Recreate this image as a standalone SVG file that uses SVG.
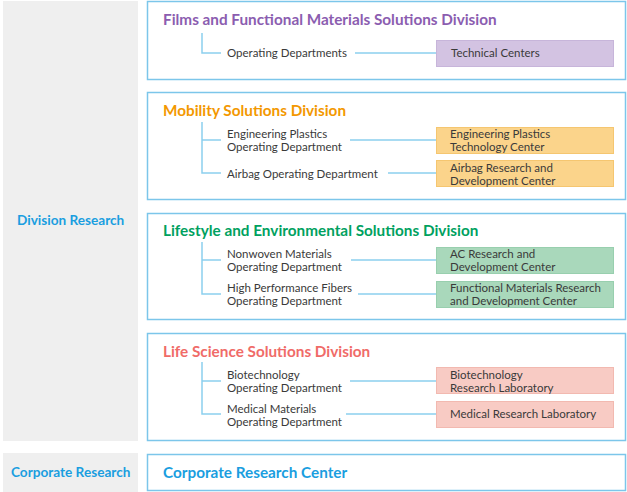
<svg xmlns="http://www.w3.org/2000/svg" width="627" height="492" viewBox="0 0 627 492">
<style>
.panel{fill:#efefef}
.box{fill:#fff;stroke:#7cc6ea;stroke-width:1.5}
.title{font-family:Lato,"Open Sans",sans-serif;font-weight:700;font-size:15.3px}
.side{font-family:Lato,"Open Sans",sans-serif;font-weight:700;font-size:13.6px;fill:#1a9ee0}
.t{font-family:Lato,"Open Sans",sans-serif;font-size:11.5px;fill:#3a3a3a}
.ln{stroke:#8ccfee;stroke-width:1.5;fill:none}
.pu{fill:#d3c3e2;stroke:#c7b5da}
.or{fill:#fbd48b;stroke:#f5c670}
.gr{fill:#a9d8bb;stroke:#98cfae}
.pk{fill:#f8cbc4;stroke:#f2b9b0}
</style>
<g id="panels">
<rect class="panel" x="3" y="1" width="135" height="440"/>
<rect class="panel" x="3" y="453" width="135" height="39"/>
<text class="side" x="17" y="225">Division Research</text>
<text class="side" x="11" y="477">Corporate Research</text>
</g>
<g id="films">
<rect class="box" x="147.5" y="1.5" width="478" height="78"/>
<text class="title" x="163" y="25" fill="#8b5db0">Films and Functional Materials Solutions Division</text>
<text class="t" x="227" y="57">Operating Departments</text>
<rect class="pu" x="436.5" y="40.5" width="177" height="26"/>
<text class="t" x="451" y="57">Technical Centers</text>
</g>
<g id="mobility">
<rect class="box" x="147.5" y="92.5" width="478" height="107"/>
<text class="title" x="163" y="116" fill="#f39800">Mobility Solutions Division</text>
<text class="t" x="227" y="137.5">Engineering Plastics</text>
<text class="t" x="227" y="150.5">Operating Department</text>
<text class="t" x="227" y="178">Airbag Operating Department</text>
<rect class="or" x="436.5" y="127.5" width="177" height="26"/>
<text class="t" x="450" y="137.5">Engineering Plastics</text>
<text class="t" x="450" y="150.5">Technology Center</text>
<rect class="or" x="436.5" y="160.5" width="177" height="26"/>
<text class="t" x="450" y="171.5">Airbag Research and</text>
<text class="t" x="450" y="184.5">Development Center</text>
</g>
<g id="lifestyle">
<rect class="box" x="147.5" y="213.5" width="478" height="106"/>
<text class="title" x="163" y="236" fill="#00a15f">Lifestyle and Environmental Solutions Division</text>
<text class="t" x="227" y="257.5">Nonwoven Materials</text>
<text class="t" x="227" y="270.5">Operating Department</text>
<text class="t" x="227" y="291.5">High Performance Fibers</text>
<text class="t" x="227" y="304.5">Operating Department</text>
<rect class="gr" x="436.5" y="247.5" width="177" height="26"/>
<text class="t" x="450" y="257.5">AC Research and</text>
<text class="t" x="450" y="270.5">Development Center</text>
<rect class="gr" x="436.5" y="281.5" width="177" height="26"/>
<text class="t" x="450" y="291.5">Functional Materials Research</text>
<text class="t" x="450" y="304.5">and Development Center</text>
</g>
<g id="lifescience">
<rect class="box" x="147.5" y="333.5" width="478" height="107"/>
<text class="title" x="163" y="357" fill="#f06b68">Life Science Solutions Division</text>
<text class="t" x="227" y="378.5">Biotechnology</text>
<text class="t" x="227" y="391.5">Operating Department</text>
<text class="t" x="227" y="412.5">Medical Materials</text>
<text class="t" x="227" y="425.5">Operating Department</text>
<rect class="pk" x="436.5" y="367.5" width="177" height="26"/>
<text class="t" x="450" y="378.5">Biotechnology</text>
<text class="t" x="450" y="391.5">Research Laboratory</text>
<rect class="pk" x="436.5" y="401.5" width="177" height="26"/>
<text class="t" x="450" y="418">Medical Research Laboratory</text>
</g>
<g id="corporate">
<rect class="box" x="147.5" y="454.5" width="478" height="36"/>
<text class="title" x="163" y="478" fill="#1a9ee0">Corporate Research Center</text>
</g>
<g id="connectors">
<path class="ln" d="M202 33V53H221M355 53H436"/>
<path class="ln" d="M202 122V173H221M202 140H221M350 140H436M388 173H436"/>
<path class="ln" d="M202 242V294H221M202 260H221M351 260H436M358 294H436"/>
<path class="ln" d="M202 362V414H221M202 381H221M350 381H436M346 414H436"/>
</g>
</svg>
